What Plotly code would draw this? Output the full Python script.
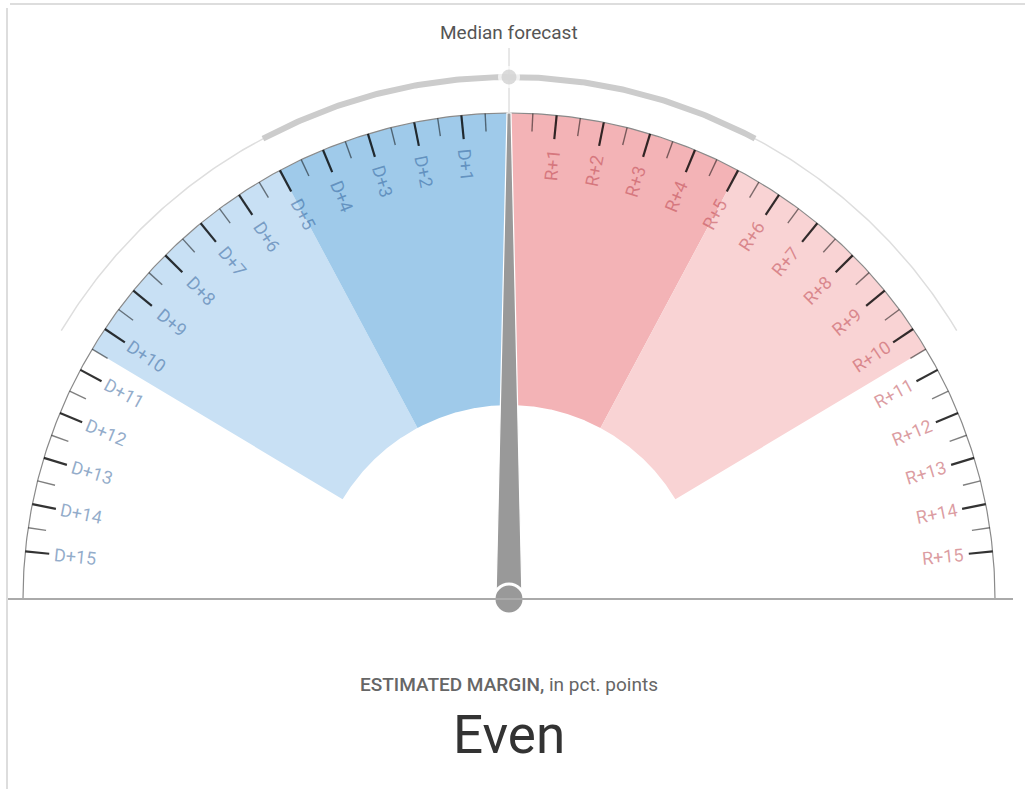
import numpy as np
import plotly.graph_objects as go

# margins in pct. points, negative = D, positive = R
scale_limit = 16                 # margin that sits on the horizontal ends of the dial
median_margin = 0.0
band_lo = [-10.5, -5.0, 0.0, 5.0]
band_hi = [-5.0, 0.0, 5.0, 10.5]
likely_range = [-5.0, 5.0]       # thick grey arc
wide_range = [-10.5, 10.5]       # thin grey arc
major_ticks = [1, 2, 3, 4, 5, 6, 7, 8, 9, 10, 11, 12, 13, 14, 15]
minor_ticks = [0.5, 1.5, 2.5, 3.5, 4.5, 5.5, 6.5, 7.5, 8.5, 9.5, 10.5, 11.5, 12.5, 13.5, 14.5]
dem_labels = ["D+1", "D+2", "D+3", "D+4", "D+5", "D+6", "D+7", "D+8",
              "D+9", "D+10", "D+11", "D+12", "D+13", "D+14", "D+15"]
rep_labels = ["R+1", "R+2", "R+3", "R+4", "R+5", "R+6", "R+7", "R+8",
              "R+9", "R+10", "R+11", "R+12", "R+13", "R+14", "R+15"]
headline = "Even"

# geometry / style (1 unit = 1 px)
R_OUT, R_IN, R_LABEL, R_MEDIAN = 486, 194, 436, 522
band_colors = ["#c8e0f4", "#9fcaea", "#f3b3b6", "#f9d3d4"]
FONT = "Roboto, Liberation Sans, Arial, sans-serif"
BLUE_TXT, RED_TXT = "rgba(40,90,150,0.5)", "rgba(185,60,70,0.5)"


def to_xy(r, m):
    a = np.deg2rad(np.asarray(m, dtype=float) / scale_limit * 90.0)
    return r * np.sin(a), r * np.cos(a)


def arc(r, m0, m1, n=120):
    return to_xy(r, np.linspace(m0, m1, n))


fig = go.Figure()

# shaded bands
for lo, hi, col in zip(band_lo, band_hi, band_colors):
    xo, yo = arc(R_OUT, lo, hi)
    xi, yi = arc(R_IN, hi, lo)
    fig.add_trace(go.Scatter(x=np.r_[xo, xi], y=np.r_[yo, yi], fill="toself",
                             fillcolor=col, mode="lines", line=dict(width=0),
                             hoverinfo="skip"))

# dial edge
xe, ye = arc(R_OUT, -scale_limit, scale_limit, 400)
fig.add_trace(go.Scatter(x=xe, y=ye, mode="lines", line=dict(color="#8a8a8a", width=1.2),
                         hoverinfo="skip"))


def tick_trace(values, length, color, width):
    xs, ys = [], []
    for m in values:
        for s in (-1, 1):
            x0, y0 = to_xy(R_OUT, s * m)
            x1, y1 = to_xy(R_OUT - length, s * m)
            xs += [x0, x1, None]
            ys += [y0, y1, None]
    return go.Scatter(x=xs, y=ys, mode="lines", line=dict(color=color, width=width),
                      hoverinfo="skip")


fig.add_trace(tick_trace(minor_ticks, 18, "rgba(0,0,0,0.5)", 1.4))
fig.add_trace(tick_trace(major_ticks, 24, "rgba(0,0,0,0.8)", 2.2))

# median forecast arcs
xt, yt = arc(R_MEDIAN, wide_range[0], wide_range[1], 300)
fig.add_trace(go.Scatter(x=xt, y=yt, mode="lines", line=dict(color="#dedede", width=1.5),
                         hoverinfo="skip"))
xk, yk = arc(R_MEDIAN, likely_range[0], likely_range[1], 200)
fig.add_trace(go.Scatter(x=xk, y=yk, mode="lines", line=dict(color="#cccccc", width=6),
                         hoverinfo="skip"))
mx0, my0 = to_xy(R_OUT, median_margin)
mx1, my1 = to_xy(R_MEDIAN + 29, median_margin)
fig.add_trace(go.Scatter(x=[mx0, mx1], y=[my0, my1], mode="lines",
                         line=dict(color="#d0d0d0", width=1), hoverinfo="skip"))
mdx, mdy = to_xy(R_MEDIAN, median_margin)
fig.add_trace(go.Scatter(x=[mdx, mdx], y=[mdy, mdy], mode="markers",
                         marker=dict(size=[22, 15], color=["white", "#cccccc"], line=dict(width=0)),
                         hoverinfo="skip"))

# baseline
fig.add_shape(type="line", x0=-501, x1=504, y0=0, y1=0, line=dict(color="#aaaaaa", width=2))

# needle
a = np.deg2rad(median_margin / scale_limit * 90.0)
px_, py_ = np.cos(a), -np.sin(a)
tx, ty = to_xy(R_OUT, median_margin)
nx = [13 * px_, tx + 2 * px_, tx - 2 * px_, -13 * px_, 13 * px_]
ny = [13 * py_, ty + 2 * py_, ty - 2 * py_, -13 * py_, 13 * py_]
fig.add_trace(go.Scatter(x=nx, y=ny, fill="toself", fillcolor="#999999", mode="lines",
                         line=dict(color="white", width=1.2), hoverinfo="skip"))
fig.add_trace(go.Scatter(x=[0], y=[0], mode="markers",
                         marker=dict(size=30, color="#999999", line=dict(color="white", width=3)),
                         hoverinfo="skip"))

# tick labels
for m, dlab, rlab in zip(major_ticks, dem_labels, rep_labels):
    theta = m / scale_limit * 90.0
    x, y = to_xy(R_LABEL, -m)
    fig.add_annotation(x=float(x), y=float(y), text=dlab, showarrow=False, textangle=90 - theta,
                       font=dict(family=FONT, size=18, color=BLUE_TXT))
    x, y = to_xy(R_LABEL, m)
    fig.add_annotation(x=float(x), y=float(y), text=rlab, showarrow=False, textangle=theta - 90,
                       font=dict(family=FONT, size=18, color=RED_TXT))

fig.add_annotation(x=0, y=567, text="Median forecast", showarrow=False,
                   font=dict(family=FONT, size=19, color="#555555"))
fig.add_annotation(x=0, y=-85, showarrow=False,
                   text="<span style='font-weight:500'>ESTIMATED MARGIN,</span> in pct. points",
                   font=dict(family=FONT, size=19, color="#666666"))
fig.add_annotation(x=0, y=-136, text=headline, showarrow=False,
                   font=dict(family=FONT, size=53, color="#333333"))

# light frame
fig.add_shape(type="line", xref="paper", yref="paper", x0=10 / 1025, x1=1, y0=1 - 4 / 789,
              y1=1 - 4 / 789, line=dict(color="#dddddd", width=2))
fig.add_shape(type="line", xref="paper", yref="paper", x0=7 / 1025, x1=7 / 1025, y0=0,
              y1=1 - 8 / 789, line=dict(color="#dddddd", width=2))

fig.update_layout(
    width=1025, height=789, margin=dict(l=0, r=0, t=0, b=0),
    paper_bgcolor="white", plot_bgcolor="white", showlegend=False,
    xaxis=dict(range=[-509, 516], visible=False, fixedrange=True),
    yaxis=dict(range=[-190, 599], visible=False, fixedrange=True),
)

fig.write_html("out.html", config={"displayModeBar": False},
               post_script="document.body.style.margin='0';document.body.style.overflow='hidden';")
